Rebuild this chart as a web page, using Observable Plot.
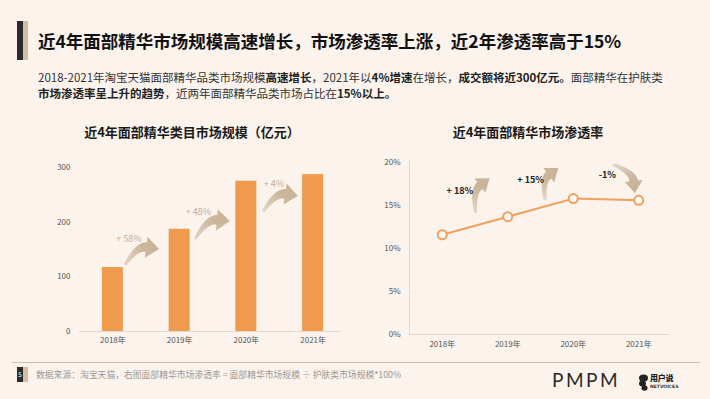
<!DOCTYPE html>
<html><head><meta charset="utf-8">
<script src="https://cdn.jsdelivr.net/npm/d3@7"></script>
<script src="https://cdn.jsdelivr.net/npm/@observablehq/plot@0.6"></script>
<style>
body{margin:0;background:#FBF3EC;}
#page{position:relative;width:710px;height:399px;background:#FBF3EC;overflow:hidden;font-family:"Noto Sans CJK SC","Noto Sans",sans-serif;color:#333}
.abs{position:absolute}
#title{left:38px;top:30px;font-size:17.5px;font-weight:700;color:#111;line-height:22px;white-space:nowrap}
#sub{left:38px;top:69px;font-size:11.5px;line-height:16px;color:#333;white-space:nowrap}
#sub b{font-weight:700;color:#222}
.ctitle{width:300px;text-align:center;font-size:13px;font-weight:700;color:#1a1a1a;line-height:18px;top:123px}
#foot{left:36px;top:369px;font-size:8.8px;color:#9a9a9a;white-space:nowrap;line-height:12px}
#pmpm{left:552px;top:368px;font-family:Lato,"Open Sans",sans-serif;font-weight:400;font-size:19px;letter-spacing:2.5px;color:#2a2a2a;line-height:24px}
#ny{left:650px;top:373px;font-size:8px;font-weight:900;color:#222;line-height:10px;letter-spacing:-0.3px}
#nv{left:650px;top:384px;font-family:"DejaVu Sans",sans-serif;font-size:4.5px;font-weight:700;color:#333;line-height:6px}
</style></head><body><div id="page">
<div class="abs" style="left:17px;top:21px;width:6px;height:39px;background:#2b2b2b"></div>
<div class="abs" style="left:23px;top:21px;width:5px;height:39px;background:#D3BDA3"></div>
<div id="title" class="abs">近4年面部精华市场规模高速增长，市场渗透率上涨，近2年渗透率高于15%</div>
<div id="sub" class="abs">2018-2021年淘宝天猫面部精华品类市场规模<b>高速增长</b>，2021年以<b>4%增速</b>在增长，<b>成交额将近300亿元。</b>面部精华在护肤类<br><b>市场渗透率呈上升的趋势</b>，近两年面部精华品类市场占比在<b>15%以上。</b></div>
<div class="abs ctitle" style="left:42px">近4年面部精华类目市场规模（亿元）</div>
<div class="abs ctitle" style="left:378px">近4年面部精华市场渗透率</div>
<div id="bar" class="abs" style="left:40px;top:150px"></div>
<div id="line" class="abs" style="left:370px;top:150px"></div>
<div class="abs" style="left:12px;top:362px;width:688px;height:1px;background:#C9BFB5"></div>
<div class="abs" style="left:17px;top:367px;width:6px;height:15px;background:#2b2b2b;color:#fff;font-size:6px;line-height:15px;text-align:center">5</div>
<div class="abs" style="left:23px;top:367px;width:5px;height:15px;background:#D3BDA3"></div>
<div id="foot" class="abs">数据来源：淘宝天猫，右图面部精华市场渗透率 = 面部精华市场规模 ÷ 护肤类市场规模*100%</div>
<div id="pmpm" class="abs">PMPM</div>
<svg class="abs" style="left:638px;top:374px" width="11" height="17"><ellipse cx="5.5" cy="4" rx="4.5" ry="3.5" fill="#222"/><ellipse cx="4.5" cy="9.5" rx="3.5" ry="3" fill="#222"/><ellipse cx="6.5" cy="14" rx="3" ry="2.7" fill="#222"/></svg>
<div id="ny" class="abs">用户说</div>
<div id="nv" class="abs">NETVOICES</div>
</div>
<script>
const years = ["2018年", "2019年", "2020年", "2021年"];
const marketSize = [117, 187, 275, 287];
const growthLabels = ["+ 58%", "+ 48%", "+ 4%"];
const penetration = [11.6, 13.7, 15.8, 15.6];
const penChangeLabels = ["+ 18%", "+ 15%", "-1%"];

// annotation anchors in data units (x = year index)
const barArrowFrom = [[0.19, 121], [1.24, 168], [2.26, 219]];
const barArrowTo = [[0.70, 150], [1.76, 201], [2.78, 247]];
const barLabelAt = [[0.05, 169], [1.09, 219], [2.26, 270]];
const penArrowFrom = [[0.52, 14.1], [1.58, 15.6], [2.62, 19.7]];
const penArrowTo = [[0.73, 18.1], [1.78, 19.3], [2.95, 16.4]];
const penLabelAt = [[0.27, 16.7], [1.35, 18.0], [2.52, 18.5]];

const ORANGE = "#EF9A4C", BEIGE = "#C9B398", AXIS = "#E2D7CC";
const FONT = "'Noto Sans CJK SC','Noto Sans',sans-serif";
let gradId = 0;

function curvedArrows(from, to, opts = {}) {
  const {bend = 0.32, w0 = 3, w1 = 10, headLen = 13, headHalf = 10.5, fill = BEIGE} = opts;
  return (index, scales) => {
    const g = d3.create("svg:g");
    from.forEach((f, k) => {
      const t = to[k];
      const S = [scales.x(f[0]), scales.y(f[1])];
      const T = [scales.x(t[0]), scales.y(t[1])];
      const dx = T[0] - S[0], dy = T[1] - S[1];
      const L = Math.hypot(dx, dy);
      const C = [(S[0] + T[0]) / 2 + dy / L * bend * L, (S[1] + T[1]) / 2 - dx / L * bend * L];
      let ex = T[0] - C[0], ey = T[1] - C[1];
      const el = Math.hypot(ex, ey); ex /= el; ey /= el;
      const B = [T[0] - ex * headLen, T[1] - ey * headLen];
      const left = [], right = [];
      const N = 24;
      for (let i = 0; i <= N; i++) {
        const s = i / N;
        const px = (1 - s) ** 2 * S[0] + 2 * s * (1 - s) * C[0] + s * s * B[0];
        const py = (1 - s) ** 2 * S[1] + 2 * s * (1 - s) * C[1] + s * s * B[1];
        let tx = 2 * (1 - s) * (C[0] - S[0]) + 2 * s * (B[0] - C[0]);
        let ty = 2 * (1 - s) * (C[1] - S[1]) + 2 * s * (B[1] - C[1]);
        const tl = Math.hypot(tx, ty); tx /= tl; ty /= tl;
        const nx = ty, ny = -tx;
        const w = (w0 + (w1 - w0) * s) / 2;
        left.push([px + nx * w, py + ny * w]);
        right.push([px - nx * w, py - ny * w]);
      }
      const nx = ey, ny = -ex;
      const pts = [...left,
        [B[0] + nx * headHalf, B[1] + ny * headHalf], T,
        [B[0] - nx * headHalf, B[1] - ny * headHalf],
        ...right.reverse()];
      const id = "ag" + (gradId++);
      const lg = g.append("linearGradient").attr("id", id).attr("gradientUnits", "userSpaceOnUse")
        .attr("x1", S[0]).attr("y1", S[1]).attr("x2", T[0]).attr("y2", T[1]);
      lg.append("stop").attr("offset", 0).attr("stop-color", fill).attr("stop-opacity", 0.45);
      lg.append("stop").attr("offset", 0.6).attr("stop-color", fill).attr("stop-opacity", 0.95);
      lg.append("stop").attr("offset", 1).attr("stop-color", fill).attr("stop-opacity", 1);
      g.append("path").attr("d", "M" + pts.map(p => p[0].toFixed(2) + "," + p[1].toFixed(2)).join("L") + "Z")
        .attr("fill", `url(#${id})`);
    });
    return g.node();
  };
}

const barData = years.map((y, i) => ({i, year: y, v: marketSize[i]}));
const barLabels = growthLabels.map((s, k) => ({s, x: barLabelAt[k][0], y: barLabelAt[k][1]}));

const bar = Plot.plot({
  width: 307, height: 205, marginLeft: 39, marginRight: 1, marginTop: 17, marginBottom: 24,
  style: {background: "transparent", fontFamily: FONT, fontSize: "8px", color: "#555", overflow: "visible"},
  x: {domain: [-0.5, 3.5], ticks: [0, 1, 2, 3], tickFormat: i => years[i], tickSize: 0, tickPadding: 6, label: null},
  y: {domain: [0, 300], ticks: [0, 100, 200, 300], tickSize: 0, tickPadding: 9, label: null},
  marks: [
    Plot.ruleY([0], {x1: -0.5, x2: 3.42, stroke: AXIS}),
    Plot.rectY(barData, {x1: d => d.i - 0.157, x2: d => d.i + 0.157, y: "v", fill: ORANGE}),
    curvedArrows(barArrowFrom, barArrowTo),
    Plot.text(barLabels, {x: "x", y: "y", text: "s", fill: "#C4AF97", fontSize: 9, textAnchor: "start"})
  ]
});
document.getElementById("bar").append(bar);

const penData = years.map((y, i) => ({i, year: y, v: penetration[i]}));
const penLabels = penChangeLabels.map((s, k) => ({s, x: penLabelAt[k][0], y: penLabelAt[k][1]}));

const line = Plot.plot({
  width: 302, height: 208, marginLeft: 39, marginRight: 1, marginTop: 12, marginBottom: 24,
  style: {background: "transparent", fontFamily: FONT, fontSize: "8px", color: "#555", overflow: "visible"},
  x: {domain: [-0.5, 3.5], ticks: [0, 1, 2, 3], tickFormat: i => years[i], tickSize: 0, tickPadding: 7, label: null},
  y: {domain: [0, 20], ticks: [0, 5, 10, 15, 20], tickFormat: d => d + "%", tickSize: 0, tickPadding: 9, label: null},
  marks: [
    Plot.ruleX([-0.5], {y1: 0, y2: 20.2, stroke: AXIS}),
    Plot.ruleY([0], {x1: -0.5, x2: 3.47, stroke: AXIS}),
    Plot.line(penData, {x: "i", y: "v", stroke: "#F0A05C", strokeWidth: 2}),
    Plot.dot(penData, {x: "i", y: "v", r: 4.5, fill: "#FFF9F3", stroke: "#F0A05C", strokeWidth: 2}),
    curvedArrows(penArrowFrom, penArrowTo, {bend: 0.3, w0: 3, w1: 9, headLen: 12, headHalf: 9}),
    Plot.text(penLabels, {x: "x", y: "y", text: "s", fill: "#222", fontSize: 9, fontWeight: 700})
  ]
});
document.getElementById("line").append(line);
</script>
</body></html>
